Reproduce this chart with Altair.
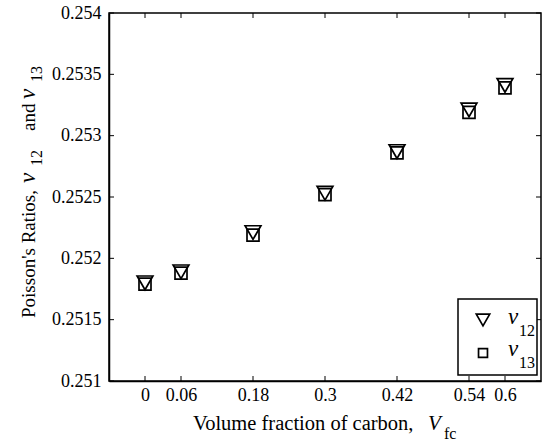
import altair as alt
import pandas as pd

# Data
vfc = [0, 0.06, 0.18, 0.3, 0.42, 0.54, 0.6]
nu12 = [0.25180, 0.25189, 0.25221, 0.25253, 0.25287, 0.25321, 0.25341]
nu13 = [0.25179, 0.25188, 0.25219, 0.25252, 0.25286, 0.25319, 0.25339]

x_ticks = [0, 0.06, 0.18, 0.3, 0.42, 0.54, 0.6]
y_ticks = [0.251, 0.2515, 0.252, 0.2525, 0.253, 0.2535, 0.254]
x_domain = [-0.06, 0.66]
y_domain = [0.251, 0.254]

W, H = 432, 368
FONT = "Liberation Serif"

df = pd.DataFrame({"V": vfc, "nu12": nu12, "nu13": nu13})
xt = pd.DataFrame({"t": x_ticks})
yt = pd.DataFrame({"t": y_ticks})
one = pd.DataFrame({"d": [0]})

xs = alt.Scale(domain=x_domain, nice=False, zero=False)
ys = alt.Scale(domain=y_domain, nice=False, zero=False)

x_axis = alt.Axis(values=x_ticks, format=".2~f", ticks=False, grid=False, title=None,
                  labelPadding=5, labelFont=FONT, labelFontSize=18, labelColor="black",
                  domainColor="black", domainWidth=1.5)
y_axis = alt.Axis(values=y_ticks, format=".4~f", ticks=False, grid=False, title=None,
                  labelPadding=8, labelFont=FONT, labelFontSize=18, labelColor="black",
                  domainColor="black", domainWidth=1.5)

tri = alt.Chart(df).mark_point(shape="triangle-down", size=250, filled=False,
                               color="black", strokeWidth=1.7, opacity=1).encode(
    x=alt.X("V:Q", scale=xs, axis=x_axis),
    y=alt.Y("nu12:Q", scale=ys, axis=y_axis),
)
sq = alt.Chart(df).mark_point(shape="square", size=144, filled=False,
                              color="black", strokeWidth=1.7, opacity=1).encode(
    x=alt.X("V:Q", scale=xs, axis=x_axis),
    y=alt.Y("nu13:Q", scale=ys, axis=y_axis),
)

def xtick(y0, y1):
    return alt.Chart(xt).mark_rule(color="black", strokeWidth=1).encode(
        x=alt.X("t:Q", scale=xs, axis=x_axis), y=alt.value(y0), y2=alt.value(y1))

def ytick(x0, x1):
    return alt.Chart(yt).mark_rule(color="black", strokeWidth=1).encode(
        y=alt.Y("t:Q", scale=ys, axis=y_axis), x=alt.value(x0), x2=alt.value(x1))

ticks = [xtick(H, H - 5), xtick(0, 5), ytick(0, 5), ytick(W, W - 5)]

def txt(s, x, y, size=20, italic=False, angle=0, align="left"):
    kw = dict(font=FONT, fontSize=size, color="black", align=align, baseline="middle")
    if italic:
        kw["fontStyle"] = "italic"
    if angle:
        kw["angle"] = angle
    return alt.Chart(one).mark_text(**kw).encode(
        x=alt.value(x), y=alt.value(y), text=alt.value(s))

texts = [
    # x-axis title
    txt("Volume fraction of carbon,", 84, 411, size=20.5),
    txt("V", 319, 411, size=21, italic=True),
    txt("fc", 335, 421, size=16),
    # y-axis title (rotated)
    txt("Poisson's Ratios,", -80, 305, size=19, angle=270),
    txt("\u03bd", -81, 170, size=23, italic=True, angle=270),
    txt("12", -72, 153, size=16, angle=270),
    txt("and", -80, 118, size=19, angle=270),
    txt("\u03bd", -81, 86, size=23, italic=True, angle=270),
    txt("13", -72, 69, size=16, angle=270),
]

legend_box = alt.Chart(one).mark_rect(fill="white", stroke="black", strokeWidth=1.5).encode(
    x=alt.value(349), x2=alt.value(428), y=alt.value(286), y2=alt.value(362))
leg_tri = alt.Chart(one).mark_point(shape="triangle-down", size=180, filled=False,
                                    color="black", strokeWidth=1.7, opacity=1).encode(
    x=alt.value(374), y=alt.value(307))
leg_sq = alt.Chart(one).mark_point(shape="square", size=80, filled=False,
                                   color="black", strokeWidth=1.7, opacity=1).encode(
    x=alt.value(374), y=alt.value(340))
legend = [
    legend_box, leg_tri, leg_sq,
    txt("\u03bd", 399, 304, size=23, italic=True),
    txt("12", 410, 318, size=16),
    txt("\u03bd", 399, 336, size=23, italic=True),
    txt("13", 410, 350, size=16),
]

chart = alt.layer(tri, sq, *ticks, *texts, *legend).properties(
    width=W, height=H,
    autosize=alt.AutoSizeParams(type="none"),
    padding={"left": 109, "top": 13, "right": 2, "bottom": 61},
    background="white",
).configure_view(stroke="black", strokeWidth=1.5).configure_axis(
    labelFont=FONT, labelFontSize=18, labelColor="black",
    domainColor="black", domainWidth=1.5, labelFlush=False, labelOverlap=False,
)

chart.save("out.html", embed_options={"renderer": "svg", "actions": False})
